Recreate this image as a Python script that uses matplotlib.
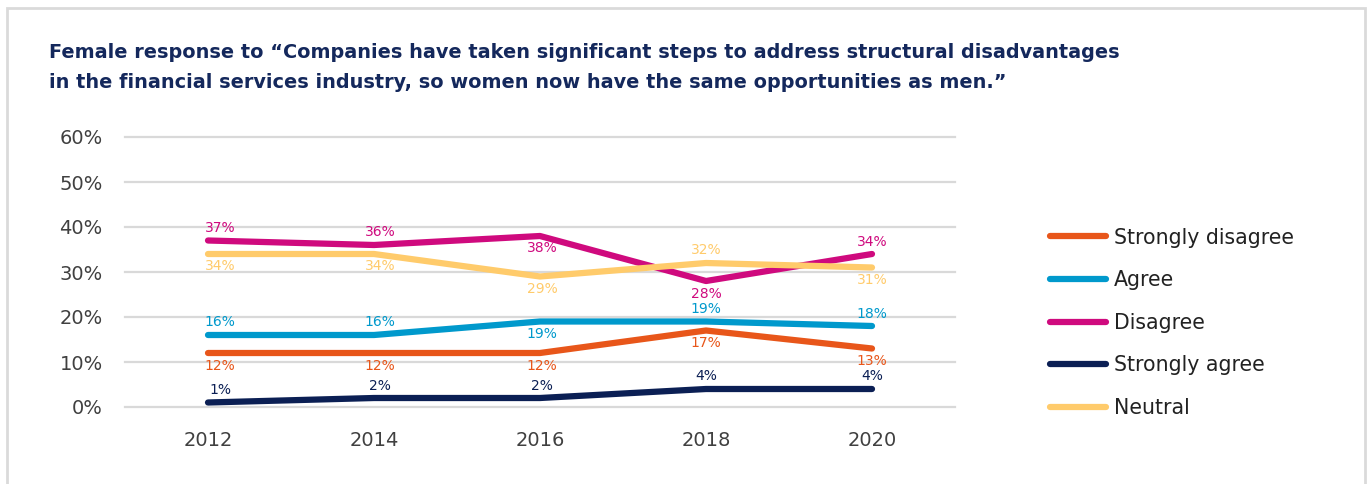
import matplotlib.pyplot as plt
from matplotlib.patches import Rectangle

plt.rcParams['font.family'] = ['DejaVu Sans']

years = [2012, 2014, 2016, 2018, 2020]
series_names = ['Strongly disagree', 'Agree', 'Disagree', 'Strongly agree', 'Neutral']
strongly_disagree = [12, 12, 12, 17, 13]
agree = [16, 16, 19, 19, 18]
disagree = [37, 36, 38, 28, 34]
strongly_agree = [1, 2, 2, 4, 4]
neutral = [34, 34, 29, 32, 31]

colors = ['#e8561a', '#0099cc', '#cf0a7e', '#0b1f54', '#ffcb6b']
# +1 puts the value label above the line, -1 below
label_side = [
    [-1, -1, -1, -1, -1],
    [1, 1, -1, 1, 1],
    [1, 1, -1, -1, 1],
    [1, 1, 1, 1, 1],
    [-1, -1, -1, 1, -1],
]
label_dx = [12, 6, 2, 0, 0]

values = [strongly_disagree, agree, disagree, strongly_agree, neutral]

fig = plt.figure(figsize=(13.7, 4.84), dpi=100)
fig.patches.append(Rectangle((7 / 1370, -0.1), 1358 / 1370, 1.1 - 8 / 484,
                             transform=fig.transFigure, fill=False,
                             edgecolor='#dadada', linewidth=2))

ax = fig.add_axes([125 / 1370, 77 / 484, 830 / 1370, 270 / 484])
ax.set_xlim(2011, 2021)
ax.set_ylim(0, 60)

for y in range(0, 61, 10):
    ax.axhline(y, color='#d9d9d9', linewidth=1.6, zorder=0, clip_on=False)

for name, vals, c, sides in zip(series_names, values, colors, label_side):
    ax.plot(years, vals, color=c, linewidth=4.5, solid_capstyle='round',
            solid_joinstyle='round', label=name, clip_on=False, zorder=3)
    for i, (x, v) in enumerate(zip(years, vals)):
        ax.annotate(f'{v}%', (x, v), xytext=(label_dx[i] * 0.72, 9 * sides[i]),
                    textcoords='offset points', ha='center', va='center',
                    fontsize=10, color=c, zorder=4)

for s in ax.spines.values():
    s.set_visible(False)
ax.set_yticks(range(0, 61, 10))
ax.set_yticklabels([f'{y}%' for y in range(0, 61, 10)])
ax.set_xticks(years)
ax.tick_params(axis='both', length=0, labelsize=14, labelcolor='#404040')
ax.tick_params(axis='y', pad=16)
ax.tick_params(axis='x', pad=17)

fig.text(49 / 1370, 1 - 52 / 484,
         'Female response to \u201cCompanies have taken significant steps to address structural disadvantages',
         fontsize=13.9, fontweight='bold', color='#14285c', va='center')
fig.text(49 / 1370, 1 - 83 / 484,
         'in the financial services industry, so women now have the same opportunities as men.\u201d',
         fontsize=13.9, fontweight='bold', color='#14285c', va='center')

fig.legend(loc='upper left', bbox_to_anchor=(1031 / 1370, 1 - 209 / 484),
           frameon=False, fontsize=14.8, labelcolor='#222222',
           handlelength=2.75, handletextpad=0.4, labelspacing=1.1)

fig.savefig('out.png', dpi=100)
